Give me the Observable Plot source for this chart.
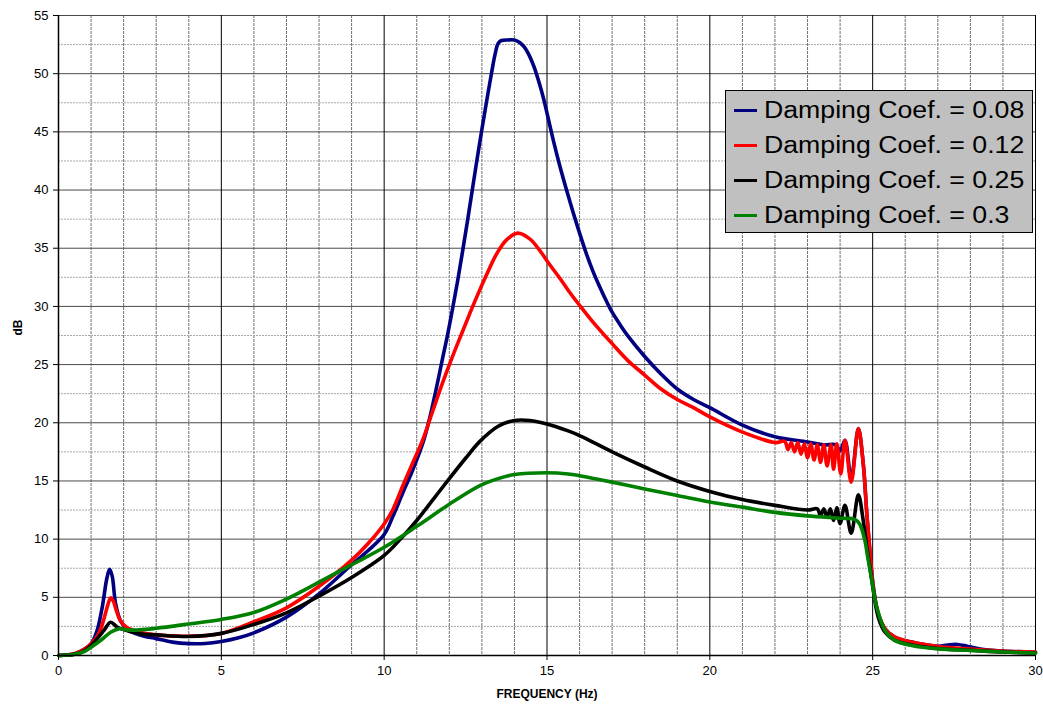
<!DOCTYPE html>
<html>
<head>
<meta charset="utf-8">
<script src="https://cdn.jsdelivr.net/npm/d3@7"></script>
<script src="https://cdn.jsdelivr.net/npm/@observablehq/plot@0.6"></script>
<style>
  html, body { margin: 0; padding: 0; background: #fff; }
  #wrap { position: relative; width: 1043px; height: 705px; font-family: "Liberation Sans", Arial, sans-serif; }
  #legend { position: absolute; left: 725px; top: 90px; width: 306px; height: 141px; background: #c0c0c0; border: 1px solid #000; }
  .row { position: absolute; left: 0; height: 35px; width: 300px; }
  .sw { position: absolute; left: 8px; top: 16px; width: 23px; height: 3px; }
  .lbl { position: absolute; left: 38px; top: 2px; font-size: 23px; line-height: 30px; color: #000; white-space: nowrap; transform: scaleX(1.16); transform-origin: left center; }
</style>
</head>
<body>
<div id="wrap"></div>
<script>
// ---- data ----
const seriesNames = ["Damping Coef. = 0.08", "Damping Coef. = 0.12", "Damping Coef. = 0.25", "Damping Coef. = 0.3"];
const seriesColors = ["#000080", "#ff0000", "#000000", "#008000"];

const freq08 = [0,0.5,0.8,1.0,1.18,1.34,1.49,1.57,1.65,1.75,1.9,2.1,2.5,3.0,3.5,4.0,4.5,5.0,5.5,6.0,7.0,8.0,9.0,9.5,10.0,10.26,10.56,10.87,11.18,11.38,11.59,11.79,11.95,12.1,12.25,12.4,12.55,12.7,12.85,13.0,13.15,13.3,13.4,13.5,13.6,13.8,14.0,14.15,14.3,14.45,14.6,14.75,14.9,15.05,15.2,15.4,15.6,15.8,16.0,16.2,16.4,16.6,16.8,17.0,17.25,17.5,18.0,18.5,19.0,19.5,20.0,21.0,22.0,23.0,23.5,23.87,24.0,24.15,24.34,24.56,24.71,24.82,24.92,25.02,25.17,25.38,25.68,26.2,27.0,27.3,27.6,27.9,28.3,29.0,30.0];
const db08   = [0,0.15,0.55,1.0,2.1,4.1,6.7,7.4,6.8,4.5,3.0,2.3,1.75,1.45,1.15,1.02,1.03,1.2,1.5,1.95,3.3,5.3,7.8,9.0,10.4,11.9,13.9,15.9,18.2,20.2,22.8,25.5,27.6,29.8,32.1,34.6,37.2,39.9,42.6,45.2,47.7,50.1,51.6,52.6,52.85,52.9,52.9,52.7,52.3,51.6,50.6,49.3,47.8,46.0,44.2,42.0,40.0,38.1,36.3,34.6,33.1,31.8,30.6,29.5,28.4,27.4,25.7,24.2,22.9,22.0,21.3,19.8,18.8,18.35,18.1,18.1,17.6,18.5,15.2,19.5,16.5,12.2,8.8,5.9,3.6,2.3,1.58,1.15,0.8,0.9,0.95,0.8,0.55,0.38,0.28];

const freq12 = [0,0.5,0.8,1.0,1.24,1.39,1.52,1.6,1.68,1.75,1.9,2.1,2.5,3.0,4.0,5.0,6.0,7.0,8.0,9.0,9.5,10.0,10.26,10.56,10.87,11.18,11.49,11.79,12.1,12.4,12.63,12.84,13.14,13.45,13.75,14.1,14.47,14.78,15.08,15.4,15.7,16.0,16.4,17.0,17.5,18.0,18.5,19.0,19.5,20.0,21.0,22.0,22.3,22.4,22.5,22.6,22.7,22.8,22.9,23.0,23.1,23.2,23.3,23.4,23.5,23.6,23.72,23.8,23.9,24.02,24.15,24.34,24.56,24.71,24.82,24.92,25.02,25.17,25.38,25.68,26.2,27.0,28.0,29.0,30.0];
const db12   = [0,0.15,0.55,1.0,1.9,3.1,4.4,4.95,4.7,4.1,3.0,2.4,2.0,1.77,1.66,1.9,2.9,4.1,5.95,8.2,9.6,11.3,12.5,14.5,16.5,18.5,21.0,23.4,25.7,27.8,29.4,30.8,32.7,34.5,35.7,36.3,35.8,34.8,33.6,32.4,31.2,30.1,28.7,26.8,25.3,24.1,22.9,22.0,21.3,20.5,19.2,18.3,18.4,17.7,18.3,17.5,18.3,17.3,18.2,17.0,18.2,16.8,18.1,16.6,18.1,16.3,18.1,16.0,18.2,15.6,18.5,14.9,19.5,16.5,12.2,8.8,5.9,3.6,2.3,1.58,1.15,0.78,0.55,0.37,0.29];

const freq25 = [0,0.5,0.8,1.0,1.18,1.39,1.6,1.8,2.1,2.5,3.0,4.0,5.0,6.0,7.0,8.0,9.0,10.0,10.5,11.0,11.5,12.0,12.5,12.94,13.5,14.0,14.47,15.0,15.65,16.0,17.0,18.0,19.0,20.0,21.0,22.0,23.0,23.3,23.4,23.5,23.6,23.7,23.8,23.9,24.0,24.15,24.34,24.56,24.71,24.82,24.92,25.02,25.17,25.38,25.68,26.2,27.0,28.0,29.0,30.0];
const db25   = [0,0.1,0.4,0.86,1.43,2.14,2.86,2.45,2.14,1.86,1.77,1.63,1.9,2.67,3.67,5.1,6.7,8.6,10.0,11.6,13.4,15.2,16.95,18.4,19.7,20.2,20.2,19.9,19.3,18.9,17.5,16.2,15.0,14.1,13.4,12.9,12.5,12.6,12.0,12.6,11.9,12.6,11.6,12.7,11.35,12.9,10.5,13.8,11.6,9.3,7.5,5.6,3.3,2.0,1.3,0.9,0.6,0.45,0.3,0.22];

const freq30 = [0,0.5,0.8,1.0,1.29,1.6,1.85,2.1,2.5,3.0,4.0,5.0,6.0,7.0,8.0,9.0,10.0,11.0,12.0,12.94,13.5,14.0,15.0,15.65,16.0,17.0,18.0,19.0,20.0,21.0,22.0,23.0,24.0,24.45,24.6,24.76,24.84,24.97,25.12,25.38,25.68,26.2,27.0,28.0,29.0,30.0];
const db30   = [0,0.1,0.35,0.71,1.29,2.0,2.29,2.2,2.2,2.34,2.71,3.1,3.7,4.85,6.3,7.8,9.3,11.1,13.0,14.6,15.2,15.55,15.7,15.6,15.45,14.9,14.3,13.75,13.2,12.75,12.3,12.0,11.8,11.7,11.3,9.9,8.6,6.5,4.2,2.15,1.3,0.86,0.57,0.43,0.3,0.2];

const xTicks = [0,5,10,15,20,25,30];
const xGrid = [1,2,3,4,6,7,8,9,11,12,13,14,16,17,18,19,21,22,23,24,26,27,28,29];
const yTicks = [0,5,10,15,20,25,30,35,40,45,50,55];
const yHalf = [2.5,7.5,12.5,17.5,22.5,27.5,32.5,37.5,42.5,47.5,52.5];

// ---- build table ----
const freqs = [freq08, freq12, freq25, freq30];
const dbs = [db08, db12, db25, db30];
const rows = seriesNames.flatMap((name, k) => freqs[k].map((f, i) => ({f, v: dbs[k][i], s: name})));

const chart = Plot.plot({
  width: 1043,
  height: 705,
  marginLeft: 58,
  marginRight: 8,
  marginTop: 15,
  marginBottom: 50,
  style: {fontFamily: "'Liberation Sans', Arial, sans-serif", fontSize: "13px", background: "#fff", color: "#000"},
  x: {domain: [0, 30], label: null},
  y: {domain: [0, 55], label: null},
  color: {domain: seriesNames, range: seriesColors},
  marks: [
    Plot.ruleX(xGrid, {stroke: "#6e6e6e", strokeWidth: 1, strokeDasharray: "3,1"}),
    Plot.ruleY(yHalf, {stroke: "#a8a8a8", strokeWidth: 1, strokeDasharray: "2,1"}),
    Plot.ruleY(yTicks, {stroke: "#4a4a4a", strokeWidth: 1}),
    Plot.ruleX(xTicks, {stroke: "#000", strokeWidth: 1}),
    Plot.line(rows, {x: "f", y: "v", z: "s", stroke: "s", strokeWidth: 3.6, curve: "catmull-rom", strokeLinejoin: "round"}),
    Plot.ruleX([0], {stroke: "#000", strokeWidth: 1.5}),
    Plot.ruleY([0], {stroke: "#000", strokeWidth: 1.5}),
    Plot.axisX(xTicks, {tickSize: 5, tickPadding: 5, label: null, fontSize: 13}),
    Plot.axisY(yTicks, {tickSize: 5, tickPadding: 5, label: null, fontSize: 13}),
    Plot.text(["FREQUENCY (Hz)"], {frameAnchor: "bottom", dy: 42, fontWeight: "bold", fontSize: 12}),
    Plot.text(["dB"], {frameAnchor: "left", dx: -40, rotate: -90, fontWeight: "bold", fontSize: 12})
  ]
});

const wrap = document.getElementById("wrap");
wrap.appendChild(chart);

// legend
const legend = document.createElement("div");
legend.id = "legend";
seriesNames.forEach((name, k) => {
  const row = document.createElement("div");
  row.className = "row";
  row.style.top = (2 + k * 35) + "px";
  const sw = document.createElement("div");
  sw.className = "sw";
  sw.style.background = seriesColors[k];
  const lbl = document.createElement("div");
  lbl.className = "lbl";
  lbl.textContent = name;
  row.appendChild(sw);
  row.appendChild(lbl);
  legend.appendChild(row);
});
wrap.appendChild(legend);
</script>
</body>
</html>
